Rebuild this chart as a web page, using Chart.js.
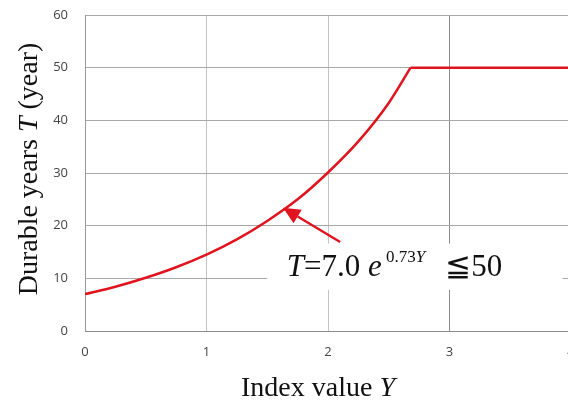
<!DOCTYPE html>
<html lang="en">
<head>
<meta charset="UTF-8">
<title>Durable years vs index value</title>
<script src="https://cdn.jsdelivr.net/npm/chart.js"></script>
<style>
  body { margin: 0; background: #fff; overflow: hidden; }
  #wrap { width: 568px; height: 403px; overflow: hidden; }
</style>
</head>
<body>
<div id="wrap"><canvas id="myChart" width="580" height="403"></canvas></div>
<script>
// values
const curveIndex = [0,   0.25, 0.5,  0.75, 1.0,  1.25, 1.5,  1.75, 2.0,  2.25, 2.5,  2.68];
const curveYears = [7.0, 8.4,  10.1, 12.1, 14.5, 17.4, 20.9, 25.0, 30.1, 36.0, 43.3, 50.0];
const capIndex = [2.68, 4.0];
const capYears = [50.0, 50.0];
const xTicks = [0, 1, 2, 3, 4];
const yTicks = [0, 10, 20, 30, 40, 50, 60];

// annotation (data coordinates)
const arrowTail = { x: 2.10, y: 16.9 };
const arrowTip  = { x: 1.63, y: 23.4 };
const labelBox  = { x0: 1.50, x1: 3.93, y0: 16.6, y1: 7.8 };
const labelPos  = { x: 1.66, y: 10.4 };

const red = '#e0141e';
const serif = '"Liberation Serif", "Times New Roman", serif';

function drawParts(ctx, parts, x, y) {
  // parts: [text, font, dy]
  parts.forEach(p => {
    ctx.font = p[1];
    ctx.fillText(p[0], x, y + (p[2] || 0));
    x += ctx.measureText(p[0]).width;
  });
  return x;
}

function partsWidth(ctx, parts) {
  let w = 0;
  parts.forEach(p => { ctx.font = p[1]; w += ctx.measureText(p[0]).width; });
  return w;
}

function noPad(s) {
  s.paddingTop = 0; s.paddingBottom = 0; s.paddingLeft = 0; s.paddingRight = 0;
}

const overlay = {
  id: 'overlay',
  afterDatasetsDraw(chart) {
    const ctx = chart.ctx;
    const xs = chart.scales.x, ys = chart.scales.y;
    ctx.save();

    // white box behind the formula
    const bx0 = xs.getPixelForValue(labelBox.x0), bx1 = xs.getPixelForValue(labelBox.x1);
    const by0 = ys.getPixelForValue(labelBox.y0), by1 = ys.getPixelForValue(labelBox.y1);
    ctx.fillStyle = '#fff';
    ctx.fillRect(bx0, by0, bx1 - bx0, by1 - by0);

    // arrow
    const tx = xs.getPixelForValue(arrowTail.x), ty = ys.getPixelForValue(arrowTail.y);
    const hx = xs.getPixelForValue(arrowTip.x), hy = ys.getPixelForValue(arrowTip.y);
    const ang = Math.atan2(hy - ty, hx - tx);
    const headLen = 17, headW = 8;
    const bx = hx - headLen * Math.cos(ang), byy = hy - headLen * Math.sin(ang);
    ctx.strokeStyle = red;
    ctx.lineWidth = 2.5;
    ctx.beginPath();
    ctx.moveTo(tx, ty);
    ctx.lineTo(bx, byy);
    ctx.stroke();
    ctx.fillStyle = red;
    ctx.beginPath();
    ctx.moveTo(hx, hy);
    ctx.lineTo(bx + headW * Math.sin(ang), byy - headW * Math.cos(ang));
    ctx.lineTo(bx - headW * Math.sin(ang), byy + headW * Math.cos(ang));
    ctx.closePath();
    ctx.fill();

    // formula
    ctx.fillStyle = '#111';
    ctx.textBaseline = 'alphabetic';
    ctx.textAlign = 'left';
    let px = xs.getPixelForValue(labelPos.x), py = ys.getPixelForValue(labelPos.y);
    px = drawParts(ctx, [
      ['T', 'italic 31px ' + serif],
      ['=7.0 ', '31px ' + serif],
      ['e', 'italic 31px ' + serif],
      [' 0.73', '17px ' + serif, -14],
      ['Y', 'italic 17px ' + serif, -14],
    ], px, py);
    drawParts(ctx, [['\u2266', '31px ' + serif], ['50', '31px ' + serif]], px + 20, py);
    ctx.restore();
  },
  afterDraw(chart) {
    const ctx = chart.ctx;
    ctx.save();
    ctx.fillStyle = '#111';
    ctx.textBaseline = 'alphabetic';
    ctx.textAlign = 'left';

    // x axis title
    const xParts = [['Index value ', '28px ' + serif], ['Y', 'italic 28px ' + serif]];
    const xw = partsWidth(ctx, xParts);
    drawParts(ctx, xParts, 318 - xw / 2, 396);

    // y axis title
    const yParts = [['Durable years ', '28px ' + serif], ['T', 'italic 28px ' + serif], [' (year)', '28px ' + serif]];
    const yw = partsWidth(ctx, yParts);
    ctx.translate(37, 169);
    ctx.rotate(-Math.PI / 2);
    drawParts(ctx, yParts, -yw / 2, 0);
    ctx.restore();
  }
};

const ctx = document.getElementById('myChart').getContext('2d');
const chart = new Chart(ctx, {
  type: 'line',
  data: {
    datasets: [{
      data: curveIndex.map((x, i) => ({ x: x, y: curveYears[i] })),
      borderColor: red,
      borderWidth: 2.5,
      pointRadius: 0,
      fill: false,
      cubicInterpolationMode: 'monotone'
    }, {
      data: capIndex.map((x, i) => ({ x: x, y: capYears[i] })),
      borderColor: red,
      borderWidth: 2.5,
      pointRadius: 0,
      fill: false
    }]
  },
  options: {
    responsive: false,
    animation: false,
    layout: { padding: { left: 0, top: 15, right: 9, bottom: 0 } },
    plugins: { legend: { display: false }, tooltip: { enabled: false } },
    scales: {
      x: {
        type: 'linear',
        min: 0, max: 4,
        afterFit: s => { s.height = 72; noPad(s); },
        afterBuildTicks: s => { s.ticks = xTicks.map(v => ({ value: v })); },
        grid: {
          drawTicks: false,
          color: c => c.tick && c.tick.value === 3 ? '#8c8c8c' : '#c4c4c4',
          lineWidth: 1
        },
        border: { color: '#8c8c8c' },
        ticks: { padding: 13, color: '#444', font: { family: '"Open Sans", sans-serif', size: 13 } }
      },
      y: {
        min: 0, max: 60,
        afterFit: s => { s.width = 85; noPad(s); },
        afterBuildTicks: s => { s.ticks = yTicks.map(v => ({ value: v })); },
        grid: { drawTicks: false, color: '#a8a8a8', lineWidth: 1 },
        border: { color: '#999' },
        ticks: { padding: 17, color: '#444', font: { family: '"Open Sans", sans-serif', size: 13 } }
      }
    }
  },
  plugins: [overlay]
});
</script>
</body>
</html>
